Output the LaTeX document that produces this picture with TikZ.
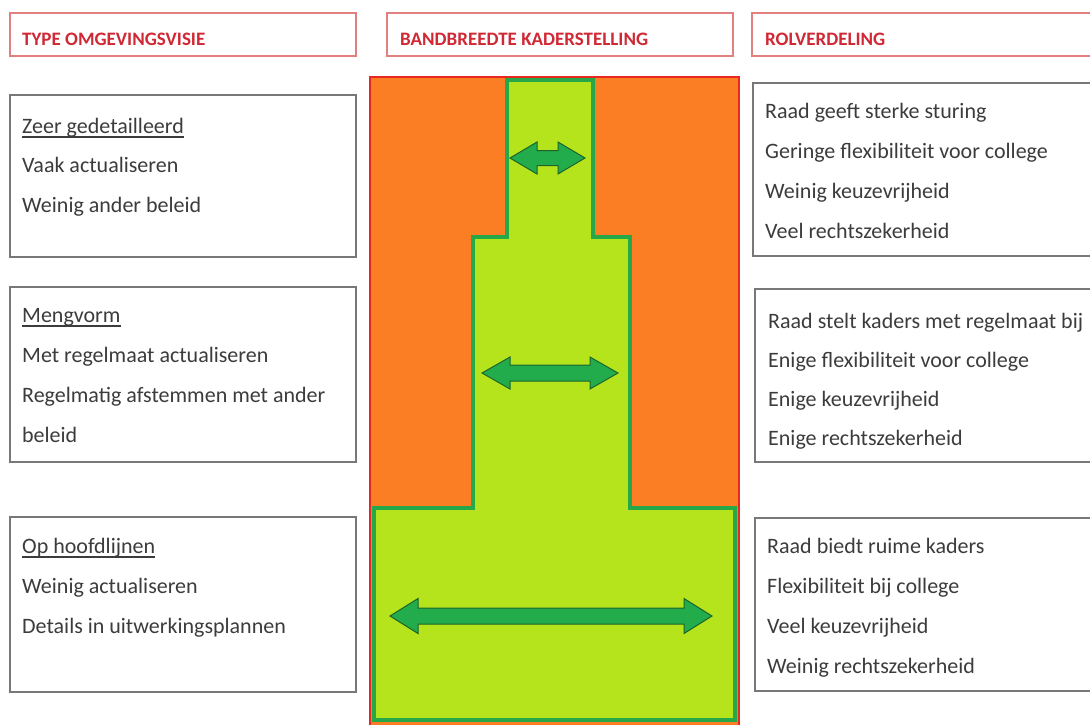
\documentclass[tikz,border=0pt]{standalone}
\usepackage{fontspec}
\setmainfont{Carlito}
\definecolor{hdrred}{RGB}{208,40,52}
\definecolor{hdrline}{RGB}{226,128,128}
\definecolor{boxline}{RGB}{120,120,120}
\definecolor{txt}{RGB}{60,60,60}
\definecolor{orng}{RGB}{252,126,36}
\definecolor{redline}{RGB}{232,40,32}
\definecolor{lime}{RGB}{182,228,28}
\definecolor{grnline}{RGB}{38,168,72}
\definecolor{arrfill}{RGB}{34,172,76}
\definecolor{arrline}{RGB}{28,100,44}
\tikzset{
  hdrbox/.style={draw=hdrline, line width=1.2pt},
  hdrtxt/.style={anchor=base west, inner sep=0pt, text=hdrred, font=\fontsize{19}{22}\selectfont\bfseries},
  infobox/.style={draw=boxline, line width=1.2pt},
  line/.style={anchor=base west, inner sep=0pt, text=txt, font=\fontsize{22}{26}\selectfont},
  uline/.style={draw=txt, line width=1.1pt},
  arrowsty/.style={fill=arrfill, draw=arrline, line width=1pt, line join=miter},
}
\newcommand\dblarr[6]{%
 \filldraw[arrowsty] (#1,#3) -- ++(#6,-#5) -- ++(0,#5-#4) -- (#2-#6,#3-#4) -- ++(0,#4-#5) -- (#2,#3) -- ++(-#6,#5) -- ++(0,#4-#5) -- (#1+#6,#3+#4) -- ++(0,#5-#4) -- cycle;}
\begin{document}
\begin{tikzpicture}[x=1pt,y=-1pt]
\useasboundingbox (0,0) rectangle (1090,724);
\fill[white] (0,0) rectangle (1090,724);
\clip (0,0) rectangle (1090,724);
% headers
\draw[hdrbox] (10,13) rectangle (356,56);
\draw[hdrbox] (387,13) rectangle (733,56);
\draw[hdrbox] (752,13) rectangle (1100,56);
\node[hdrtxt] (h1) at (22,45) {TYPE OMGEVINGSVISIE};
\node[hdrtxt] (h2) at (400,45) {BANDBREEDTE KADERSTELLING};
\node[hdrtxt] (h3) at (765,45) {ROLVERDELING};
% left boxes
\draw[infobox] (10,95) rectangle (356,257);
\node[line] (l11) at (22,133) {Zeer gedetailleerd};
\draw[uline] ([yshift=-4pt]l11.base west) -- ([yshift=-4pt]l11.base east);
\node[line] (l12) at (22,172) {Vaak actualiseren};
\node[line] (l13) at (22,212) {Weinig ander beleid};
\draw[infobox] (10,287) rectangle (356,462);
\node[line] (l21) at (22,322) {Mengvorm};
\draw[uline] ([yshift=-4pt]l21.base west) -- ([yshift=-4pt]l21.base east);
\node[line] (l22) at (22,362) {Met regelmaat actualiseren};
\node[line] (l23) at (22,402) {Regelmatig afstemmen met ander};
\node[line] (l24) at (22,442) {beleid};
\draw[infobox] (10,517) rectangle (356,692);
\node[line] (l31) at (22,553) {Op hoofdlijnen};
\draw[uline] ([yshift=-4pt]l31.base west) -- ([yshift=-4pt]l31.base east);
\node[line] (l32) at (22,593) {Weinig actualiseren};
\node[line] (l33) at (22,633) {Details in uitwerkingsplannen};
% right boxes
\draw[infobox] (753,83) rectangle (1100,256);
\node[line] (r11) at (765,118) {Raad geeft sterke sturing};
\node[line] (r12) at (765,158) {Geringe flexibiliteit voor college};
\node[line] (r13) at (765,198) {Weinig keuzevrijheid};
\node[line] (r14) at (765,238) {Veel rechtszekerheid};
\draw[infobox] (755,289) rectangle (1100,462);
\node[line] (r21) at (768,328) {Raad stelt kaders met regelmaat bij};
\node[line] (r22) at (768,367) {Enige flexibiliteit voor college};
\node[line] (r23) at (768,406) {Enige keuzevrijheid};
\node[line] (r24) at (768,445) {Enige rechtszekerheid};
\draw[infobox] (755,518) rectangle (1100,691);
\node[line] (r31) at (767,553) {Raad biedt ruime kaders};
\node[line] (r32) at (767,593) {Flexibiliteit bij college};
\node[line] (r33) at (767,633) {Veel keuzevrijheid};
\node[line] (r34) at (767,673) {Weinig rechtszekerheid};
% middle band
\filldraw[fill=orng, draw=redline, line width=2pt] (370,77) rectangle (739,740);
\filldraw[fill=lime, draw=grnline, line width=4pt, line join=miter]
  (507,80) -- (593,80) -- (593,237) -- (630,237) -- (630,508) -- (735,508)
  -- (735,720) -- (374,720) -- (374,508) -- (473,508) -- (473,237) -- (507,237) -- cycle;
\dblarr{510}{585}{158}{7.5}{16}{27}
\dblarr{482}{618}{373}{8}{16}{28}
\dblarr{390}{712}{616}{8}{17.5}{28}
\end{tikzpicture}
\end{document}
